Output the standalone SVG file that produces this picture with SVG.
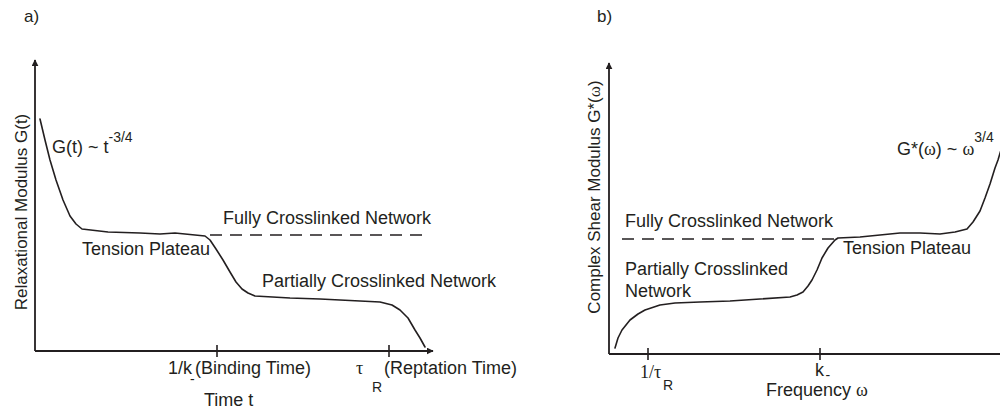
<svg xmlns="http://www.w3.org/2000/svg" width="1000" height="411" viewBox="0 0 1000 411">
  <style>
    text { font-family: "Liberation Sans", Arial, sans-serif; fill: #231f20; font-size: 18px; }
    .lbl { font-size: 17px; }
    .sub { font-size: 14px; }
    .greek { font-family: "Liberation Serif", "Times New Roman", serif; }
    .axis { stroke: #231f20; stroke-width: 1.8; fill: none; }
    .tick { stroke: #231f20; stroke-width: 1.6; }
    .curve { stroke: #231f20; stroke-width: 1.6; fill: none; stroke-linejoin: round; stroke-linecap: round; }
    .dash { stroke: #231f20; stroke-width: 1.6; stroke-dasharray: 12 8; }
  </style>
  <defs>
    <marker id="arrow" viewBox="0 0 10 10" refX="9" refY="5" markerWidth="7" markerHeight="7" markerUnits="userSpaceOnUse" orient="auto">
      <path d="M0,0 L10,5 L0,10 Z" fill="#231f20"/>
    </marker>
  </defs>

  <!-- Panel a: relaxation modulus vs time -->
  <g id="panel-a">
    <text x="24" y="22" class="lbl">a)</text>
    <g id="axes-a">
      <line class="axis" x1="35" y1="351" x2="35" y2="60" marker-end="url(#arrow)"/>
      <line class="axis" x1="35" y1="351" x2="433" y2="351" marker-end="url(#arrow)"/>
      <line class="tick" x1="217" y1="345" x2="217" y2="357"/>
      <line class="tick" x1="389" y1="345" x2="389" y2="357"/>
    </g>
    <text class="lbl" transform="translate(27,212) rotate(-90)" text-anchor="middle">Relaxational Modulus G(t)</text>
    <text x="52" y="153">G(t) ~ t<tspan class="sub" dy="-11">-3/4</tspan></text>
    <text x="82" y="255">Tension Plateau</text>
    <text x="223" y="224">Fully Crosslinked Network</text>
    <text x="262" y="287">Partially Crosslinked Network</text>
    <text x="168" y="374">1/k<tspan class="sub" x="190" y="384">-</tspan><tspan x="195" y="374">(Binding Time)</tspan></text>
    <text y="374"><tspan class="greek" x="356">τ</tspan><tspan class="sub" x="372" y="392">R</tspan><tspan x="384" y="374">(Reptation Time)</tspan></text>
    <text x="204" y="406">Time t</text>
    <g id="curves-a">
      <line class="dash" x1="210" y1="235" x2="428" y2="235"/>
      <path class="curve" d="M40,119 L45,140 L50,160 L56,180 L63,200 L70,216 L76,224 L82,229 L108,232 L140,233 L160,234 L175,233 L205,236 L210,240 L216,249 L223,260 L230,272 L236,282 L242,289 L248,293 L255,296 L290,298 L320,299 L360,301 L380,302 L392,305 L400,310 L408,318 L415,330 L420,338 L425,347"/>
    </g>
  </g>

  <!-- Panel b: complex shear modulus vs frequency -->
  <g id="panel-b">
    <text x="597" y="22" class="lbl">b)</text>
    <g id="axes-b">
      <line class="axis" x1="609" y1="354" x2="609" y2="63" marker-end="url(#arrow)"/>
      <line class="axis" x1="609" y1="354" x2="1000" y2="354"/>
      <line class="tick" x1="648" y1="348" x2="648" y2="360"/>
      <line class="tick" x1="820" y1="348" x2="820" y2="360"/>
    </g>
    <text class="lbl" transform="translate(600,197) rotate(-90)" text-anchor="middle">Complex Shear Modulus G*(<tspan class="greek">ω</tspan>)</text>
    <text x="897" y="155">G*(<tspan class="greek">ω</tspan>) ~ <tspan class="greek">ω</tspan><tspan class="sub" dy="-13">3/4</tspan></text>
    <text x="625" y="227">Fully Crosslinked Network</text>
    <text x="625" y="275">Partially Crosslinked</text>
    <text x="625" y="297">Network</text>
    <text x="843" y="254">Tension Plateau</text>
    <text y="378"><tspan class="greek" x="640">1/τ</tspan><tspan class="sub" x="663" y="390">R</tspan></text>
    <text x="815" y="376">k<tspan class="sub" x="825.5" y="380">-</tspan></text>
    <text x="766" y="396">Frequency <tspan class="greek">ω</tspan></text>
    <g id="curves-b">
      <line class="dash" x1="622" y1="239" x2="836" y2="239"/>
      <path class="curve" d="M615,348 L618,338 L622,330 L630,320 L638,314 L645,310 L660,305 L675,303 L700,302 L730,301 L760,299 L790,297 L797,295 L803,292 L808,286 L812,280 L817,270 L822,258 L828,248 L835,240 L838,238 L860,237 L880,235 L900,233 L920,233 L940,234 L955,232 L967,229 L973,222 L980,211 L985,198 L990,184 L995,168 L998,160 L1001,150"/>
    </g>
  </g>
</svg>
